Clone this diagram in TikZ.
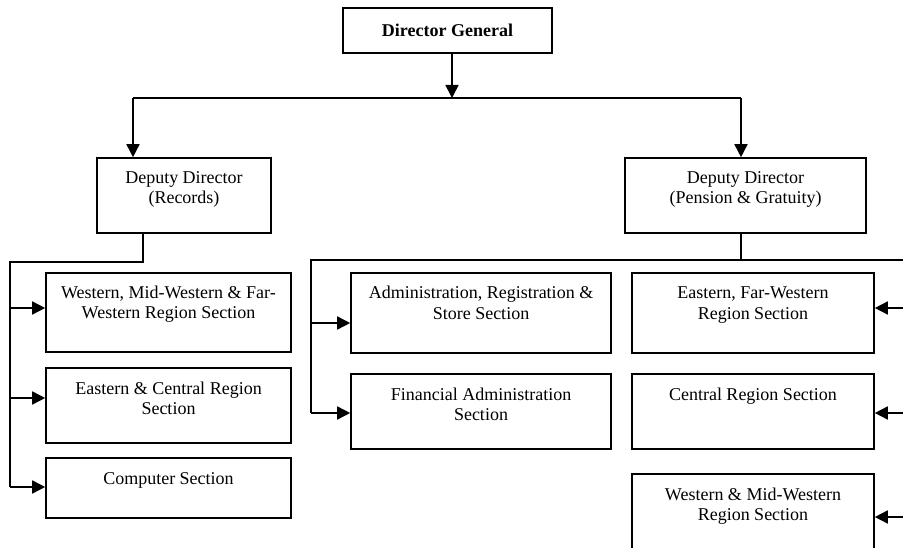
\documentclass[tikz,border=0pt]{standalone}
\usepackage{fontspec}
\setmainfont{Liberation Serif}
\usetikzlibrary{calc}
\usetikzlibrary{arrows.meta}
\newcommand{\boxtxt}[3]{\parbox[c][#2][t]{#1}{\centering\rule{0pt}{26pt}#3}}

\begin{document}
\begin{tikzpicture}[x=1pt, y=-1pt,
  unit/.style={draw, line width=1.6pt, inner sep=0pt},
  link/.style={line width=1.6pt},
  >={Triangle[length=13pt,width=13pt]},
  font=\fontsize{18}{20}\selectfont]
\clip (0,0) rectangle (903,548);
\fill[white] (0,0) rectangle (903,548);
% top
\node[unit, minimum width=209pt, minimum height=45pt, font=\fontsize{18}{20}\selectfont\bfseries] (dg) at (447.5,30.5) {Director General};
\node[unit] (rec) at (184,195.5) {\boxtxt{174pt}{75pt}{Deputy Director\\(Records)}};
\node[unit] (pen) at (745.5,195.5) {\boxtxt{241pt}{75pt}{Deputy Director\\(Pension \& Gratuity)}};
% records side
\node[unit] (w1) at (168.5,312.5) {\boxtxt{245pt}{79pt}{Western, Mid-Western \& Far-\\Western Region Section}};
\node[unit] (w2) at (168.5,405.5) {\boxtxt{245pt}{75pt}{Eastern \& Central Region\\Section}};
\node[unit] (w3) at (168.5,488) {\boxtxt{245pt}{60pt}{Computer Section}};
% pension side
\node[unit] (adm) at (481,313) {\boxtxt{260pt}{80pt}{Administration, Registration \&\\Store Section}};
\node[unit] (fin) at (481,411.5) {\boxtxt{260pt}{75pt}{Financial Administration\\Section}};
\node[unit] (east) at (753,313) {\boxtxt{242pt}{80pt}{Eastern, Far-Western\\Region Section}};
\node[unit] (cen) at (753,411.5) {\boxtxt{242pt}{75pt}{Central Region Section}};
\node[unit] (west) at (753,517) {\boxtxt{242pt}{86pt}{Western \& Mid-Western\\Region Section}};

\coordinate (dgbar) at (452,98);
\coordinate (hl) at (133,98);
\coordinate (hr) at (741,98);
\coordinate (rdown) at (143,262);
\coordinate (ltrunk) at (10,262);
\coordinate (pdown) at (741,260);
\coordinate (mtrunk) at (311,260);
\coordinate (rtrunk) at (906,260);

\draw[link, ->] (dgbar |- dg.south) -- (dgbar);
\draw[link] (hl) -- (hr);
\draw[link, ->] (hl) -- (hl |- rec.north);
\draw[link, ->] (hr) -- (hr |- pen.north);

\draw[link] (rdown |- rec.south) -- (rdown) -- (ltrunk) -- (10,487);
\foreach \b/\y in {w1/308, w2/398, w3/487} {
  \draw[link, ->] (ltrunk |- 0,\y) -- (\b.west |- 0,\y);
}

\draw[link] (pdown |- pen.south) -- (pdown);
\draw[link] (rtrunk) -- (mtrunk) -- (311,413);
\foreach \b/\y in {adm/323, fin/413} {
  \draw[link, ->] (mtrunk |- 0,\y) -- (\b.west |- 0,\y);
}
\foreach \b/\y in {east/308, cen/413, west/517} {
  \draw[link, ->] (rtrunk |- 0,\y) -- (\b.east |- 0,\y);
}
\end{tikzpicture}
\end{document}
